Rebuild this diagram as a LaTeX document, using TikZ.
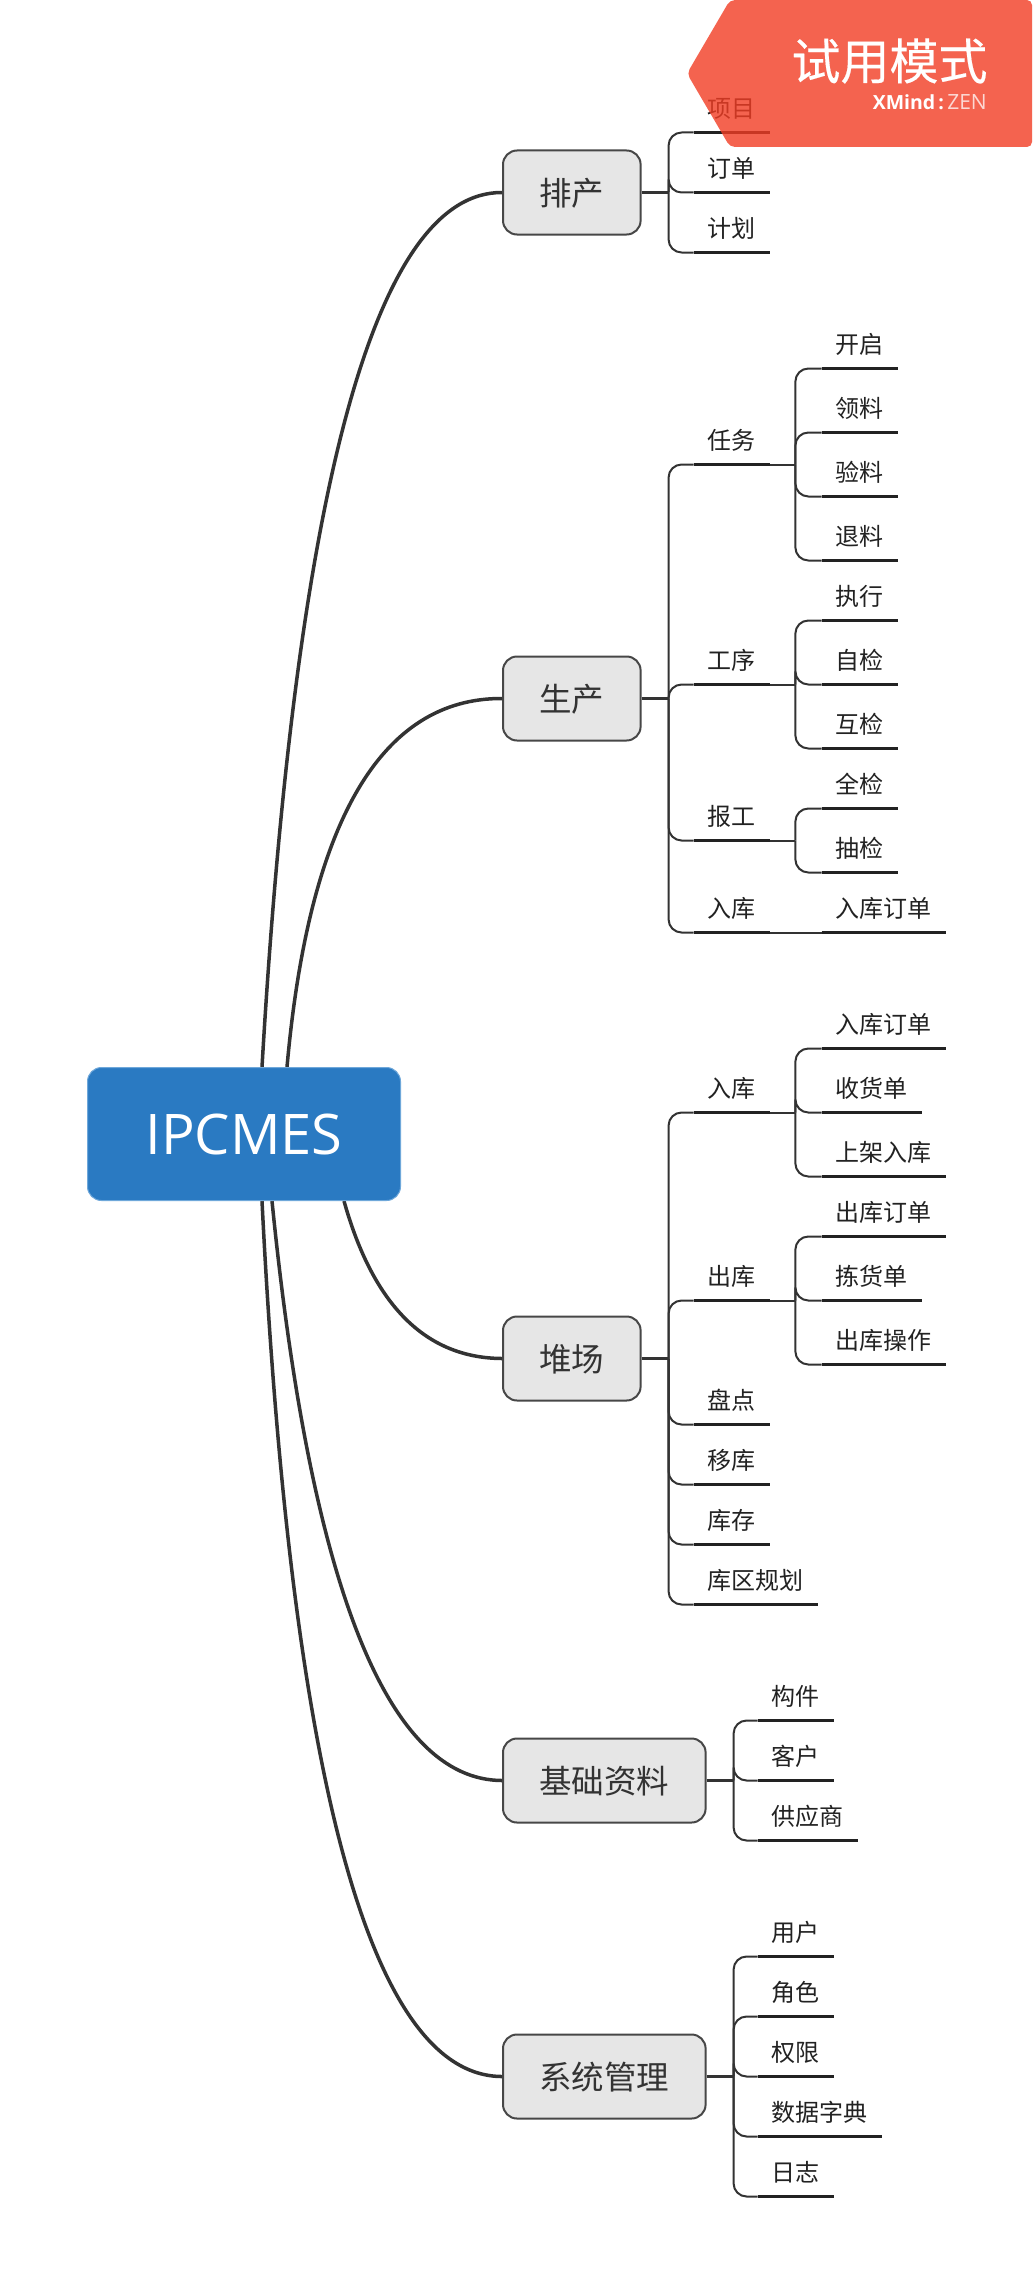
\documentclass[tikz,border=0pt]{standalone}
\usepackage{fontspec}
\setmainfont{Noto Sans CJK SC}
\newfontfamily\ofont{Open Sans}
\newfontfamily\trialfont[FakeBold=0.3]{Noto Sans CJK SC}
\definecolor{inkc}{HTML}{222222}
\definecolor{linec}{HTML}{333333}
\definecolor{topicfill}{HTML}{E6E6E6}
\definecolor{mainfill}{HTML}{2A7AC2}
\definecolor{mainedge}{HTML}{6FA8DA}
\definecolor{bannerc}{HTML}{F23D24}
\tikzset{
  mainbox/.style={draw=mainedge,line width=1pt,fill=mainfill,rounded corners=14pt,text=white,minimum width=313pt,minimum height=133pt,inner sep=0pt,font=\ofont\fontsize{56pt}{60pt}\selectfont},
  topicbox/.style={draw=linec!90!white,line width=2pt,fill=topicfill,rounded corners=14pt,text=linec,minimum height=84pt,inner xsep=36.3pt,inner ysep=0pt,text height=29pt,text depth=4pt,font=\fontsize{32.5pt}{36pt}\selectfont},
  lbl/.style={anchor=south west,inner xsep=14pt,inner ysep=0pt,minimum height=47pt,text height=21pt,text depth=3pt,text=inkc,font=\fontsize{24pt}{28pt}\selectfont},
  uline/.style={draw=inkc,line width=3pt},
  conn/.style={draw=linec,line width=2pt,rounded corners=13pt},
  stem/.style={draw=linec,line width=3pt},
  bigcurve/.style={draw=linec,line width=3.5pt},
  bannershape/.style={fill=bannerc,opacity=0.8,rounded corners=5pt},
}
\newcommand\lab[4]{\node[lbl] (#1) at (#2,#3) {#4};}
\newcommand\und[1]{\draw[uline] (#1.south west) -- (#1.south east);}
\newcommand\kid[2]{\draw[conn] (#1) |- (#2.south west);}
\begin{document}
\begin{tikzpicture}[x=1pt,y=-1pt]
\useasboundingbox (0,0) rectangle (1033,2285);
\fill[white] (0,0) rectangle (1033,2285);

% curves start coordinates
\coordinate (s1) at (262,1067);
\coordinate (s2) at (287,1067);
\coordinate (s3) at (344,1201);
\coordinate (s4) at (272,1201);
\coordinate (s5) at (262,1201);

% topics
\node[topicbox,anchor=west] (pc) at (502,192.5) {排产};
\node[topicbox,anchor=west] (sc) at (502,698.5) {生产};
\node[topicbox,anchor=west] (dc) at (502,1358.5) {堆场};
\node[topicbox,anchor=west] (jc) at (502,1780.5) {基础资料};
\node[topicbox,anchor=west] (xt) at (502,2076.5) {系统管理};

\draw[bigcurve] (s1) .. controls (296,484) and (376,192) .. (pc.west);
\draw[bigcurve] (s2) .. controls (309,821) and (381.3,698) .. (sc.west);
\draw[bigcurve] (s3) .. controls (373.3,1305.7) and (426,1358) .. (dc.west);
\draw[bigcurve] (s4) .. controls (310.7,1587) and (387.3,1780) .. (jc.west);
\draw[bigcurve] (s5) .. controls (291.3,1784.3) and (371.3,2076) .. (xt.west);

\node[mainbox] (main) at (244,1134) {IPCMES};

% ---- 排产
\lab{a1}{693.5}{132.5}{项目}
\lab{a2}{693.5}{192.5}{订单}
\lab{a3}{693.5}{252.5}{计划}
\coordinate (ba) at ([xshift=27pt]pc.east);
\draw[stem] (pc.east) -- (ba);
\kid{ba}{a1}\kid{ba}{a2}\kid{ba}{a3}
\und{a1}\und{a2}\und{a3}

% ---- 生产
\lab{b1}{693.5}{464.5}{任务}
\lab{b2}{693.5}{684.5}{工序}
\lab{b3}{693.5}{840.5}{报工}
\lab{b4}{693.5}{932.5}{入库}
\coordinate (bb) at ([xshift=27pt]sc.east);
\draw[stem] (sc.east) -- (bb);
\kid{bb}{b1}\kid{bb}{b2}\kid{bb}{b3}\kid{bb}{b4}
\und{b1}\und{b2}\und{b3}\und{b4}

\lab{b11}{821.5}{368.5}{开启}
\lab{b12}{821.5}{432.5}{领料}
\lab{b13}{821.5}{496.5}{验料}
\lab{b14}{821.5}{560.5}{退料}
\coordinate (bb1) at ([xshift=25.5pt]b1.south east);
\draw[conn] (b1.south east) -- (bb1);
\kid{bb1}{b11}\kid{bb1}{b12}\kid{bb1}{b13}\kid{bb1}{b14}
\und{b11}\und{b12}\und{b13}\und{b14}

\lab{b21}{821.5}{620.5}{执行}
\lab{b22}{821.5}{684.5}{自检}
\lab{b23}{821.5}{748.5}{互检}
\coordinate (bb2) at ([xshift=25.5pt]b2.south east);
\draw[conn] (b2.south east) -- (bb2);
\kid{bb2}{b21}\kid{bb2}{b22}\kid{bb2}{b23}
\und{b21}\und{b22}\und{b23}

\lab{b31}{821.5}{808.5}{全检}
\lab{b32}{821.5}{872.5}{抽检}
\coordinate (bb3) at ([xshift=25.5pt]b3.south east);
\draw[conn] (b3.south east) -- (bb3);
\kid{bb3}{b31}\kid{bb3}{b32}
\und{b31}\und{b32}

\lab{b41}{821.5}{932.5}{入库订单}
\draw[conn] (b4.south east) -- (b41.south west);
\und{b41}

% ---- 堆场
\lab{c1}{693.5}{1112.5}{入库}
\lab{c2}{693.5}{1300.5}{出库}
\lab{c3}{693.5}{1424.5}{盘点}
\lab{c4}{693.5}{1484.5}{移库}
\lab{c5}{693.5}{1544.5}{库存}
\lab{c6}{693.5}{1604.5}{库区规划}
\coordinate (bc) at ([xshift=27pt]dc.east);
\draw[stem] (dc.east) -- (bc);
\kid{bc}{c1}\kid{bc}{c2}\kid{bc}{c3}\kid{bc}{c4}\kid{bc}{c5}\kid{bc}{c6}
\und{c1}\und{c2}\und{c3}\und{c4}\und{c5}\und{c6}

\lab{c11}{821.5}{1048.5}{入库订单}
\lab{c12}{821.5}{1112.5}{收货单}
\lab{c13}{821.5}{1176.5}{上架入库}
\coordinate (bc1) at ([xshift=25.5pt]c1.south east);
\draw[conn] (c1.south east) -- (bc1);
\kid{bc1}{c11}\kid{bc1}{c12}\kid{bc1}{c13}
\und{c11}\und{c12}\und{c13}

\lab{c21}{821.5}{1236.5}{出库订单}
\lab{c22}{821.5}{1300.5}{拣货单}
\lab{c23}{821.5}{1364.5}{出库操作}
\coordinate (bc2) at ([xshift=25.5pt]c2.south east);
\draw[conn] (c2.south east) -- (bc2);
\kid{bc2}{c21}\kid{bc2}{c22}\kid{bc2}{c23}
\und{c21}\und{c22}\und{c23}

% ---- 基础资料
\lab{d1}{757.5}{1720.5}{构件}
\lab{d2}{757.5}{1780.5}{客户}
\lab{d3}{757.5}{1840.5}{供应商}
\coordinate (bd) at ([xshift=27pt]jc.east);
\draw[stem] (jc.east) -- (bd);
\kid{bd}{d1}\kid{bd}{d2}\kid{bd}{d3}
\und{d1}\und{d2}\und{d3}

% ---- 系统管理
\lab{e1}{757.5}{1956.5}{用户}
\lab{e2}{757.5}{2016.5}{角色}
\lab{e3}{757.5}{2076.5}{权限}
\lab{e4}{757.5}{2136.5}{数据字典}
\lab{e5}{757.5}{2196.5}{日志}
\coordinate (be) at ([xshift=27pt]xt.east);
\draw[stem] (xt.east) -- (be);
\kid{be}{e1}\kid{be}{e2}\kid{be}{e3}\kid{be}{e4}\kid{be}{e5}
\und{e1}\und{e2}\und{e3}\und{e4}\und{e5}

% ---- banner
\path[bannershape] (730,0) -- (1032,0) -- (1032,147) -- (730,147) -- (687,73.5) -- cycle;
\node[anchor=center,inner sep=0pt,text=white,font=\trialfont\fontsize{49pt}{52pt}\selectfont] (trial) at (889.5,61) {试用模式};
\node[anchor=base east,inner sep=0pt,text=white,font=\ofont\fontsize{19.5pt}{22pt}\selectfont] (brand) at (987,110) {\textbf{XMind}\,\textbf{:}\,\textcolor{white!80!bannerc}{\fontsize{21pt}{22pt}\selectfont ZEN}};
\end{tikzpicture}
\end{document}
